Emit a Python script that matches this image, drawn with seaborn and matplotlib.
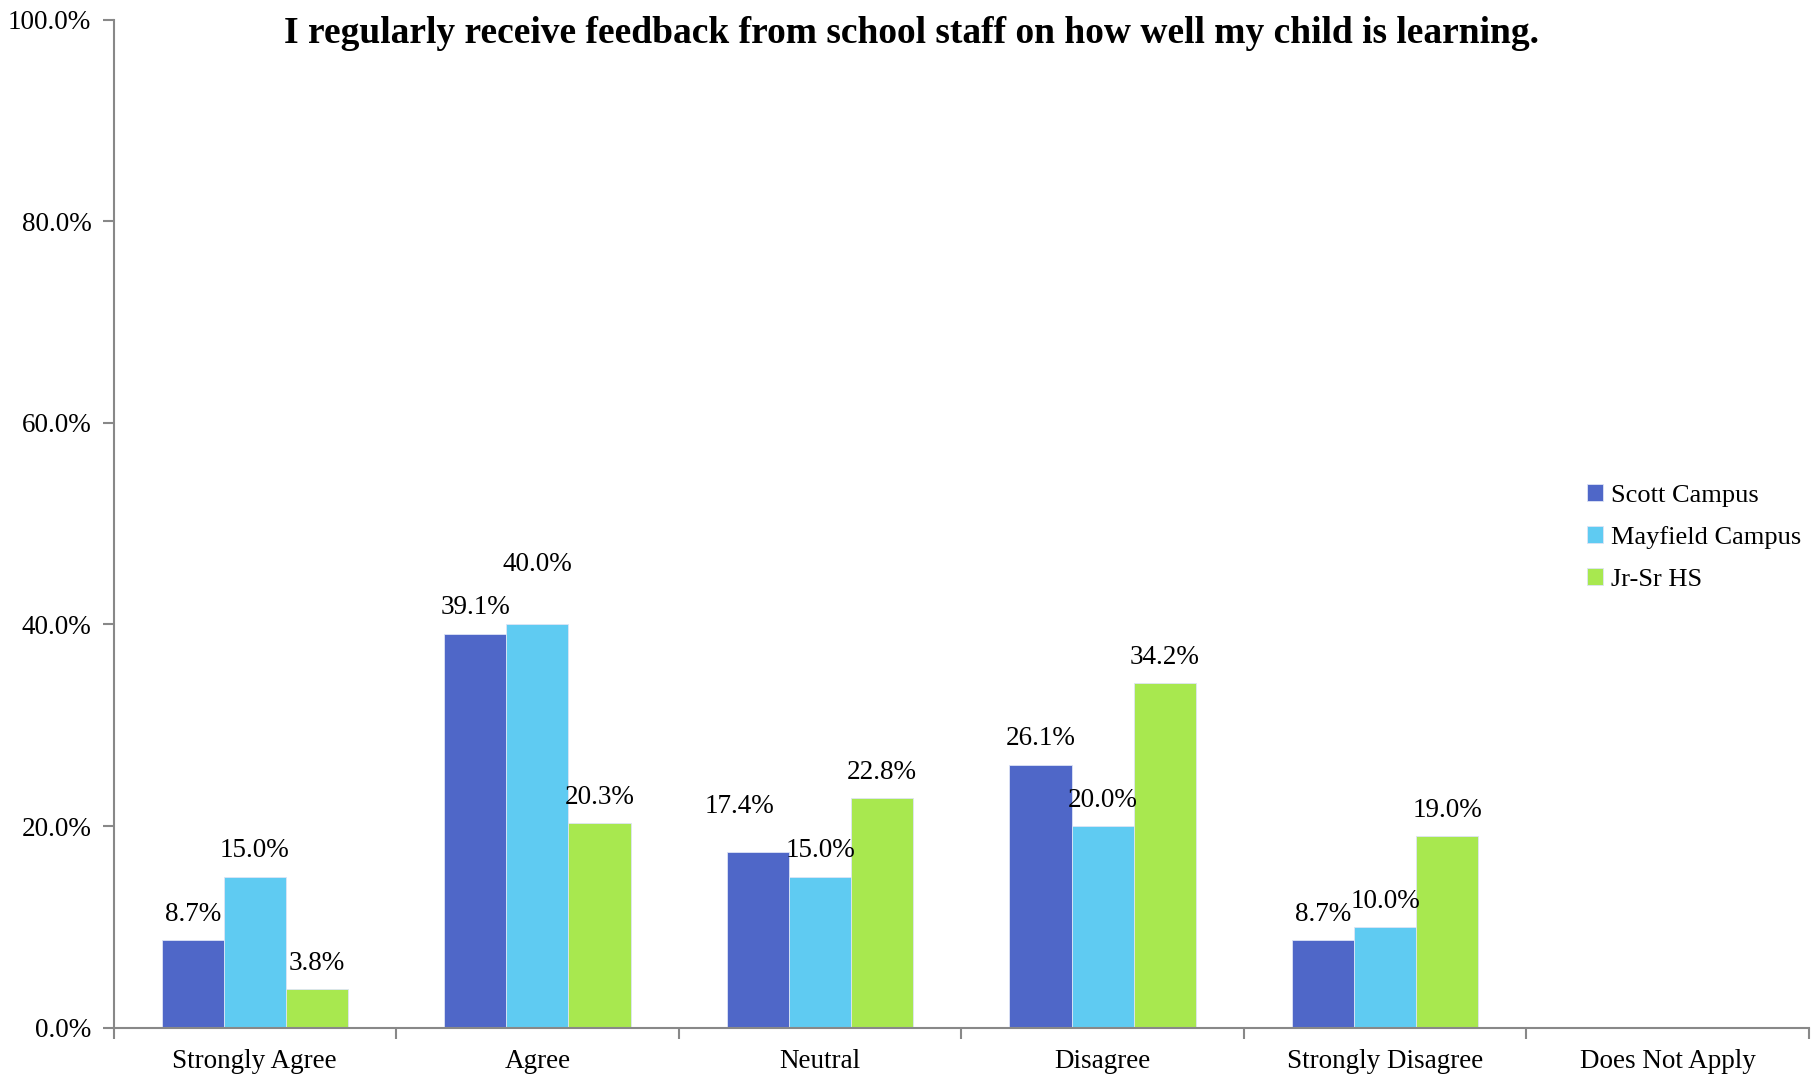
import numpy as np
import pandas as pd
import matplotlib
matplotlib.use('Agg')
import matplotlib.pyplot as plt
import seaborn as sns
from matplotlib.ticker import FuncFormatter, FixedLocator

# survey responses, percent of parents per campus
categories = ['Strongly Agree', 'Agree', 'Neutral', 'Disagree', 'Strongly Disagree', 'Does Not Apply']
campuses = ['Scott Campus', 'Mayfield Campus', 'Jr-Sr HS']
scott = [8.7, 39.1, 17.4, 26.1, 8.7, np.nan]
mayfield = [15.0, 40.0, 15.0, 20.0, 10.0, np.nan]
jrsr = [3.8, 20.3, 22.8, 34.2, 19.0, np.nan]
colors = ['#4F67C8', '#5FCBF2', '#A8E84F']

df = pd.DataFrame({
    'category': categories * 3,
    'campus': np.repeat(campuses, len(categories)),
    'pct': scott + mayfield + jrsr,
})

sns.set_style('white')
plt.rcParams['font.family'] = ['Liberation Serif', 'DejaVu Serif']
plt.rcParams['text.color'] = 'black'
plt.rcParams['xtick.color'] = 'black'
plt.rcParams['ytick.color'] = 'black'

FS = 19.5

fig = plt.figure(figsize=(18.16, 10.74), dpi=100)
ax = fig.add_axes([0.0625, 0.0431, 0.9337, 0.9386])

sns.barplot(data=df, x='category', y='pct', hue='campus', order=categories,
            hue_order=campuses, palette=colors, width=0.66, gap=0,
            errorbar=None, edgecolor='#dde4f5', linewidth=0.6, saturation=1, ax=ax)

# value labels (a couple nudged like in the original)
nudge = {(1, 1): (0.0, 6.0), (0, 2): (-0.066, 4.5)}
for ci, cont in enumerate(ax.containers):
    for pi, bar in enumerate(cont):
        h = bar.get_height()
        if np.isnan(h) or h == 0:
            continue
        dx, dy = nudge.get((ci, pi), (0.0, 2.55))
        ax.text(bar.get_x() + bar.get_width() / 2 + dx, h + dy, f'{h:.1f}%',
                ha='center', va='center', fontsize=FS, color='black')

ax.set_ylim(0, 100)
ax.set_xlim(-0.5, len(categories) - 0.5)
ax.yaxis.set_major_locator(FixedLocator([0, 20, 40, 60, 80, 100]))
ax.yaxis.set_major_formatter(FuncFormatter(lambda v, p: f'{v:.1f}%'))
ax.set_xlabel('')
ax.set_ylabel('')

ax.xaxis.set_minor_locator(FixedLocator(np.arange(-0.5, len(categories), 1.0)))
ax.tick_params(axis='x', which='major', length=0, pad=15, labelsize=FS)
ax.tick_params(axis='x', which='minor', length=8, width=1.5, color='#888888', direction='out')
ax.tick_params(axis='y', which='major', length=8, width=1.5, color='#888888',
               direction='out', pad=8, labelsize=FS)
ax.tick_params(bottom=True, left=True, which='both')

for s in ['top', 'right']:
    ax.spines[s].set_visible(False)
for s in ['left', 'bottom']:
    ax.spines[s].set_color('#888888')
    ax.spines[s].set_linewidth(1.5)

ax.legend(loc='upper left', bbox_to_anchor=(0.869, 0.539), frameon=False, fontsize=19,
          handlelength=0.6, handleheight=0.6, handletextpad=0.3, labelspacing=0.72,
          borderaxespad=0, borderpad=0)

fig.text(0.502, 0.969, 'I regularly receive feedback from school staff on how well my child is learning.',
         ha='center', va='center', fontsize=27, fontweight='bold')

fig.savefig('out.png', dpi=100)
